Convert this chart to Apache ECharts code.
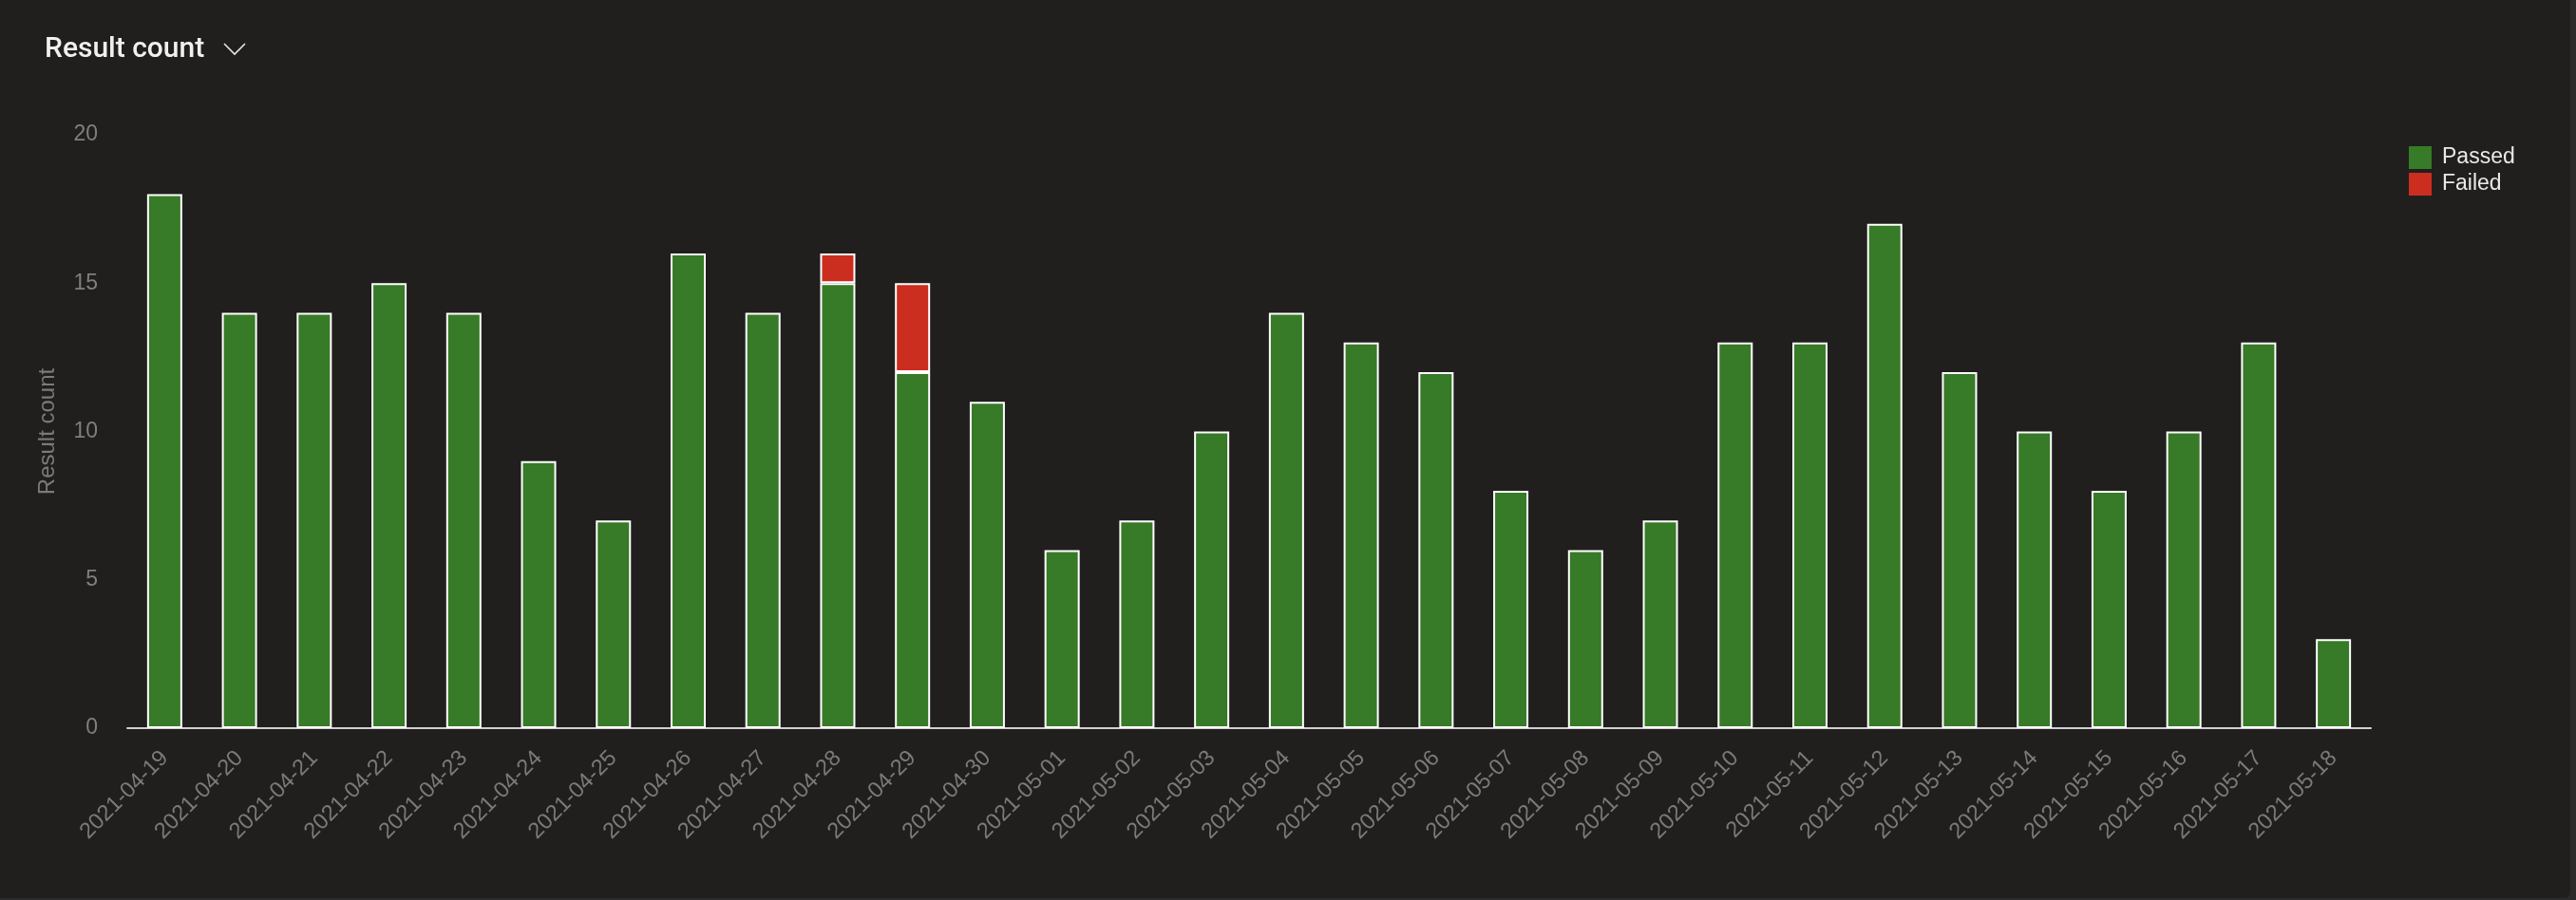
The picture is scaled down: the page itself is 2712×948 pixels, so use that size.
<!DOCTYPE html>
<html>
<head>
<meta charset="utf-8">
<title>Result count</title>
<script src="https://cdn.jsdelivr.net/npm/echarts@6/dist/echarts.min.js"></script>
<style>
  html, body { margin: 0; padding: 0; background: #2b2b2b; }
  #chartMain { width: 2706px; height: 946px; background: #201f1e; border-bottom-right-radius: 6px; }
</style>
</head>
<body>
<div id="chartMain"></div>
<script>
// categories (one bar per day)
var dates = ['2021-04-19', '2021-04-20', '2021-04-21', '2021-04-22', '2021-04-23', '2021-04-24',
  '2021-04-25', '2021-04-26', '2021-04-27', '2021-04-28', '2021-04-29', '2021-04-30',
  '2021-05-01', '2021-05-02', '2021-05-03', '2021-05-04', '2021-05-05', '2021-05-06',
  '2021-05-07', '2021-05-08', '2021-05-09', '2021-05-10', '2021-05-11', '2021-05-12',
  '2021-05-13', '2021-05-14', '2021-05-15', '2021-05-16', '2021-05-17', '2021-05-18'];
var passed = [18, 14, 14, 15, 14, 9, 7, 16, 14, 15, 12, 11, 6, 7, 10, 14, 13, 12, 8, 6, 7, 13, 13, 17, 12, 10, 8, 10, 13, 3];
var failed = [0, 0, 0, 0, 0, 0, 0, 0, 0, 1, 3, 0, 0, 0, 0, 0, 0, 0, 0, 0, 0, 0, 0, 0, 0, 0, 0, 0, 0, 0];
var seriesNames = ['Passed', 'Failed'];
var seriesColors = ['#377a27', '#cb2d1f'];

var myChart = echarts.init(document.getElementById('chartMain'));

function barSeries(name, values, color) {
  return {
    name: name,
    type: 'bar',
    stack: 'total',
    barWidth: 37,
    // zero counts draw no segment
    data: values.map(function (v) { return v === 0 ? null : v; }),
    itemStyle: { color: color, borderColor: '#ffffff', borderWidth: 2 },
    emphasis: { disabled: true }
  };
}

var option = {
  backgroundColor: 'transparent',
  animation: false,
  title: {
    text: 'Result count',
    left: 47,
    top: 37,
    padding: 0,
    textStyle: { color: '#f0f0f0', fontFamily: 'Roboto', fontWeight: 500, fontSize: 30 }
  },
  graphic: [{
    type: 'polyline',
    shape: { points: [[236, 46], [247, 57], [258, 46]] },
    style: { stroke: '#e6e6e6', lineWidth: 1.6, fill: null }
  }],
  legend: {
    orient: 'vertical',
    left: 2536,
    top: 154,
    padding: 0,
    itemWidth: 24,
    itemHeight: 24,
    itemGap: 4,
    icon: 'rect',
    itemStyle: { borderWidth: 0 },
    textStyle: { color: '#e8e8e8', fontFamily: 'Liberation Sans', fontSize: 23, padding: [0, 0, 0, 6] },
    data: seriesNames
  },
  grid: { left: 134, right: 210, top: 142, bottom: 179 },
  xAxis: {
    type: 'category',
    data: dates,
    axisTick: { show: false },
    axisLine: { lineStyle: { color: '#d0d0d0', width: 2 } },
    axisLabel: {
      rotate: 45,
      interval: 0,
      margin: 28,
      color: '#7a7a7a',
      fontFamily: 'Liberation Sans',
      fontSize: 23.5
    }
  },
  yAxis: {
    type: 'value',
    min: 0,
    max: 20,
    interval: 5,
    name: 'Result count',
    nameLocation: 'middle',
    nameGap: 72,
    nameTextStyle: { color: '#7a7a7a', fontFamily: 'Liberation Sans', fontSize: 24 },
    splitLine: { show: false },
    axisLine: { show: false },
    axisTick: { show: false },
    axisLabel: { color: '#7f7f7f', fontFamily: 'Liberation Sans', fontSize: 23, margin: 31 }
  },
  series: [
    barSeries(seriesNames[0], passed, seriesColors[0]),
    barSeries(seriesNames[1], failed, seriesColors[1])
  ]
};
myChart.setOption(option, true);
</script>
</body>
</html>
